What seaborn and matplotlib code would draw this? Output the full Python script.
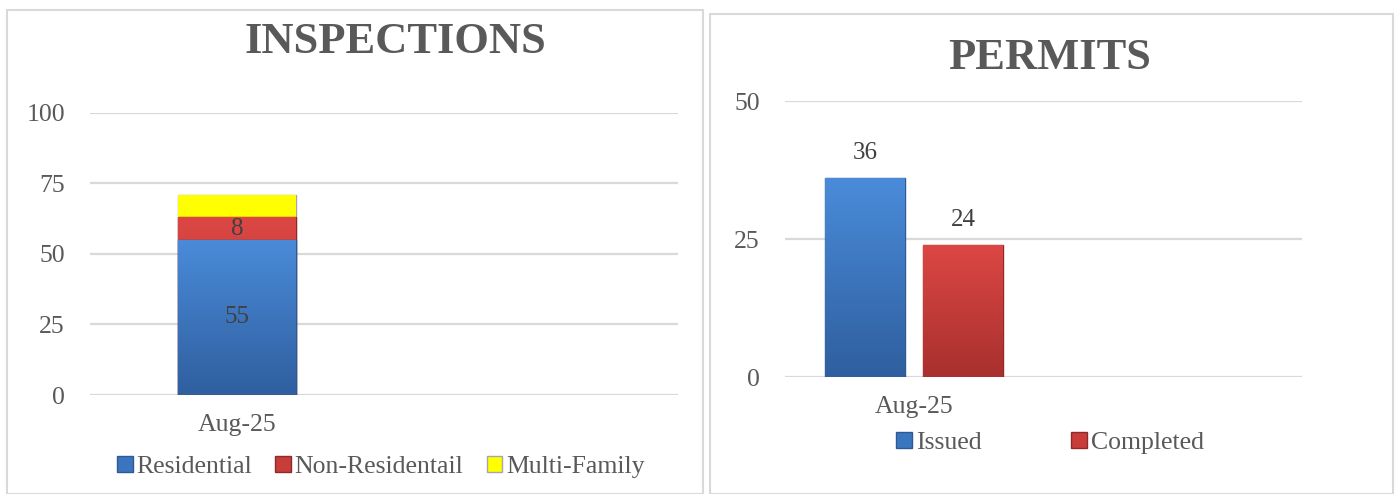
import matplotlib
matplotlib.use('Agg')
import matplotlib.pyplot as plt
import seaborn as sns
import pandas as pd
import numpy as np
from matplotlib.patches import Rectangle, Patch
from matplotlib.colors import LinearSegmentedColormap

# --- data ---
months = ['Aug-25']
insp_types = ['Residential', 'Non-Residentail', 'Multi-Family']
insp_values = [55, 8, 8]
permit_types = ['Issued', 'Completed']
permit_values = [36, 24]

BLUE = '#3B75BE'
RED = '#C83C3A'
YELLOW = '#FFFF00'
GRID = '#D9D9D9'
TEXT = '#595959'

# light -> dark shading used to fake the bevelled Excel look
shades = {BLUE: ('#4A8BD9', '#2F5F9F'), RED: ('#DC4744', '#A8302E'), YELLOW: ('#FFFF00', '#FFFF00')}


def shade_bar(ax, patch, color):
    x0, y0 = patch.get_x(), patch.get_y()
    w, h = patch.get_width(), patch.get_height()
    cmap = LinearSegmentedColormap.from_list('g', [shades[color][1], shades[color][0]])
    grad = np.linspace(0, 1, 64).reshape(-1, 1)
    im = ax.imshow(grad, cmap=cmap, origin='lower', aspect='auto',
                   extent=(x0, x0 + w, y0, y0 + h), zorder=patch.get_zorder() + 0.1)
    im.set_clip_path(patch)


sns.set_theme(style='white')
plt.rcParams['font.family'] = ['Liberation Serif', 'DejaVu Serif']

fig = plt.figure(figsize=(13.95, 4.94), dpi=100)

# panel borders
fig.patches.append(Rectangle((7 / 1395, 0), 696 / 1395, 1 - 10 / 494, transform=fig.transFigure,
                             fill=False, edgecolor=GRID, lw=1.5))
fig.patches.append(Rectangle((710 / 1395, 0), 683 / 1395, 1 - 14 / 494, transform=fig.transFigure,
                             fill=False, edgecolor=GRID, lw=1.5))

ax1 = fig.add_axes([0.0645, 0.2004, 0.4215, 0.5709])
ax2 = fig.add_axes([0.5627, 0.2368, 0.3706, 0.5587])

# --- inspections: stacked bar (draw cumulative totals, tallest first) ---
insp = pd.DataFrame({'month': months * len(insp_types), 'type': insp_types, 'value': insp_values})
insp['top'] = np.cumsum(insp['value'])
colors1 = [BLUE, RED, YELLOW]
edges1 = ['#2C5A93', '#8E2A28', '#A6A6A6']
for i in reversed(range(len(insp_types))):
    sub = insp.iloc[[i]]
    sns.barplot(data=sub, x='month', y='top', color=colors1[i], width=0.4,
                edgecolor=edges1[i], linewidth=1, saturation=1, ax=ax1, zorder=3 + (2 - i))

seg_colors = [YELLOW, RED, BLUE]
for p, c in zip(list(ax1.patches), seg_colors):
    shade_bar(ax1, p, c)

# value labels in the middle of the first two segments
for i in range(2):
    ax1.text(0, insp['top'][i] - insp['value'][i] / 2, str(insp['value'][i]),
             ha='center', va='center', fontsize=18, color='#404040', zorder=10)

ax1.set_ylim(0, 100)
ax1.set_yticks([0, 25, 50, 75, 100])
ax1.set_xlim(-0.5, 1.5)

# --- permits: clustered bars ---
perm = pd.DataFrame({'month': months * len(permit_types), 'type': permit_types, 'value': permit_values})
sns.barplot(data=perm, x='month', y='value', hue='type', palette=[BLUE, RED], width=0.758, gap=0.185,
            saturation=1, edgecolor=None, linewidth=0, ax=ax2, zorder=3, legend=False)
for p, c, e in zip(list(ax2.patches), [BLUE, RED], ['#2C5A93', '#8E2A28']):
    p.set_edgecolor(e)
    p.set_linewidth(1)
    shade_bar(ax2, p, c)
for cont in ax2.containers:
    ax2.bar_label(cont, padding=10, fontsize=18, color='#404040')
ax2.set_ylim(0, 50)
ax2.set_yticks([0, 25, 50])
ax2.set_xlim(-0.5, 1.5)

for ax in (ax1, ax2):
    ax.set_xlabel('')
    ax.set_ylabel('')
    for s in ax.spines.values():
        s.set_visible(False)
    ax.grid(axis='y', color=GRID, lw=1.6, zorder=0)
    ax.set_axisbelow(True)
    ax.tick_params(axis='y', length=0, pad=18, labelsize=18.5, labelcolor=TEXT)
    ax.tick_params(axis='x', length=0, pad=14, labelsize=18.5, labelcolor=TEXT)

# titles
fig.text(0.2832, 0.915, 'INSPECTIONS', ha='center', va='center', fontsize=32,
         fontweight='bold', color=TEXT)
fig.text(0.7527, 0.8826, 'PERMITS', ha='center', va='center', fontsize=32,
         fontweight='bold', color=TEXT)

# legends
h1 = [Patch(facecolor=c, edgecolor=e) for c, e in zip(colors1, edges1)]
fig.legend(h1, insp_types, loc='center', bbox_to_anchor=(0.273, 0.0547), ncol=3, frameon=False,
           fontsize=18.5, labelcolor=TEXT, handlelength=0.6, handleheight=0.6, handletextpad=0.15,
           columnspacing=0.9)
h2 = [Patch(facecolor=c, edgecolor=e) for c, e in zip([BLUE, RED], edges1[:2])]
fig.legend(h2, permit_types, loc='center', bbox_to_anchor=(0.7527, 0.1032), ncol=2, frameon=False,
           fontsize=18.5, labelcolor=TEXT, handlelength=0.6, handleheight=0.6, handletextpad=0.15,
           columnspacing=3.5)

fig.savefig('out.png', dpi=100)
